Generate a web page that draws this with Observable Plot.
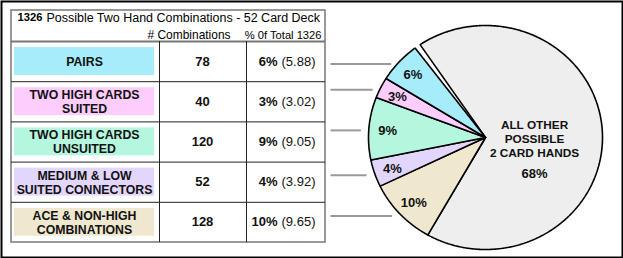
<!DOCTYPE html>
<html>
<head>
<meta charset="utf-8">
<script src="https://cdn.jsdelivr.net/npm/d3@7"></script>
<script src="https://cdn.jsdelivr.net/npm/@observablehq/plot@0.6"></script>
<style>
  html, body { margin: 0; padding: 0; background: white; }
  #chart svg { display: block; }
</style>
</head>
<body>
<div id="chart"></div>
<script>
// ---- data ----
const titleBold = "1326";
const titleRest = "Possible Two Hand Combinations - 52 Card Deck";
const headerCombos = "# Combinations";
const headerPct = "% 0f Total 1326";
const categories = ["PAIRS", "TWO HIGH CARDS\nSUITED", "TWO HIGH CARDS\nUNSUITED", "MEDIUM & LOW\nSUITED CONNECTORS", "ACE & NON-HIGH\nCOMBINATIONS"];
const combos = [78, 40, 120, 52, 128];
const pctRounded = ["6%", "3%", "9%", "4%", "10%"];
const pctExact = ["(5.88)", "(3.02)", "(9.05)", "(3.92)", "(9.65)"];
const colors = ["#a6ecfb", "#fdcdfd", "#b4f7de", "#e2d6fc", "#efe8cf"];
const totalCombos = 1326;
const otherLabel = "ALL OTHER\nPOSSIBLE\n2 CARD HANDS";
const otherPct = "68%";
const otherColor = "#eeeeee";

// ---- layout ----
const W = 623, H = 258;
const tLeft = 11, tRight = 325, tTop = 10, tBottom = 242;
const headLine = 41, rowH = 40.2;
const col1 = 159, col2 = 246;
const cx = 485, cy = 137, rx = 117, ry = 112;
const startAngle = -37 * Math.PI / 180;
const gap = 3 * Math.PI / 180;
const fontName = "'Liberation Sans'";
const font = fontName + ", Arial, Helvetica, sans-serif";

// fit a text string to a target pixel width
const ctx = document.createElement("canvas").getContext("2d");
function fitSize(text, target, weight, fallback) {
  ctx.font = `${weight} 20px ${font}`;
  const w = ctx.measureText(text).width;
  return w > 0 ? Math.min(fallback * 1.2, 20 * target / w) : fallback;
}
const titleBoldSize = fitSize(titleBold, 25, "bold", 12);
const titleRestSize = fitSize(titleRest, 274, "normal", 12.4);
const headCombosSize = fitSize(headerCombos, 83, "normal", 11.5);
const headPctSize = fitSize(headerPct, 77, "normal", 11.5);

const rows = categories.map((c, i) => ({
  i, label: c, combos: combos[i], pct: pctRounded[i], exact: pctExact[i], color: colors[i],
  top: headLine + i * rowH
}));

// ---- pie geometry ----
const otherValue = totalCombos - d3.sum(combos);
const pieInput = [{key: "other", value: otherValue, color: otherColor}]
  .concat(rows.slice().reverse().map(r => ({key: r.label, value: r.combos, color: r.color, row: r})));
const arcs = d3.pie().sort(null).value(d => d.value)
  .startAngle(startAngle).endAngle(startAngle + 2 * Math.PI)(pieInput);

const pt = (a, f = 1) => ({x: cx + f * rx * Math.sin(a), y: cy - f * ry * Math.cos(a)});
function slicePoints(a0, a1) {
  const n = Math.max(2, Math.ceil((a1 - a0) / (Math.PI / 360)));
  const pts = [{x: cx, y: cy}];
  for (let k = 0; k <= n; k++) pts.push(pt(a0 + (a1 - a0) * k / n));
  pts.push({x: cx, y: cy});
  return pts;
}
const slices = arcs.map(a => ({
  key: a.data.key, color: a.data.color, row: a.data.row,
  a0: a.data.key === "other" ? a.startAngle + gap : a.startAngle,
  a1: a.endAngle,
  mid: (a.startAngle + a.endAngle) / 2
}));
const small = slices.filter(s => s.row);
const other = slices.find(s => s.key === "other");
const otherPos = pt(other.mid, 0.42);

const marks = [];
// outer frame
marks.push(Plot.frame({stroke: "black", strokeWidth: 2, inset: 1}));
// table border
marks.push(Plot.rect([0], {x1: () => tLeft, x2: () => tRight, y1: () => tTop, y2: () => tBottom, fill: "white", stroke: "#777", strokeWidth: 1.5}));
// label boxes
marks.push(Plot.rect(rows, {x1: () => 14, x2: () => 154, y1: d => d.top + 6, y2: d => d.top + 34, fill: "color"}));
// header line
marks.push(Plot.ruleY([headLine], {x1: tLeft, x2: tRight, stroke: "#777", strokeWidth: 2}));
// row lines
marks.push(Plot.ruleY(rows.slice(1), {y: d => d.top, x1: tLeft, x2: tRight, stroke: "#222", strokeWidth: 1}));
// column lines
marks.push(Plot.ruleX([col1, col2], {y1: headLine, y2: tBottom, stroke: "#222", strokeWidth: 1}));
// title
marks.push(Plot.text([titleBold], {x: () => 17, y: () => 17, text: d => d, textAnchor: "start", fontWeight: "bold", fontSize: titleBoldSize, fill: "black"}));
marks.push(Plot.text([titleRest], {x: () => 46, y: () => 17, text: d => d, textAnchor: "start", fontSize: titleRestSize, fill: "black"}));
marks.push(Plot.text([headerCombos], {x: () => 230, y: () => 35, text: d => d, textAnchor: "end", fontSize: headCombosSize, fill: "black"}));
marks.push(Plot.text([headerPct], {x: () => 321, y: () => 35, text: d => d, textAnchor: "end", fontSize: headPctSize, fill: "black"}));
// row texts
marks.push(Plot.text(rows, {x: () => 84, y: d => d.top + 20, text: "label", fontWeight: "bold", fontSize: 12.3, lineHeight: 1.15, fill: "#111"}));
marks.push(Plot.text(rows, {x: () => 202, y: d => d.top + 20, text: d => String(d.combos), fontWeight: "bold", fontSize: 13, fill: "#111"}));
marks.push(Plot.text(rows, {x: () => 277, y: d => d.top + 20, text: "pct", textAnchor: "end", fontWeight: "bold", fontSize: 13, fill: "#111"}));
marks.push(Plot.text(rows, {x: () => 281, y: d => d.top + 20, text: "exact", textAnchor: "start", fontSize: 13, fill: "#111"}));
// leader lines
marks.push(Plot.link(small, {
  x1: () => 330, x2: d => pt(d.mid).x - 8,
  y1: d => pt(d.mid).y + 2, y2: d => pt(d.mid).y + 2,
  stroke: "#9a9a9a", strokeWidth: 2
}));
// pie slices
for (const s of slices) {
  marks.push(Plot.line(slicePoints(s.a0, s.a1), {x: "x", y: "y", fill: s.color, stroke: "black", strokeWidth: 1.6, strokeLinejoin: "miter"}));
}
// pie labels
marks.push(Plot.text(small, {x: d => pt(d.mid, 0.84).x, y: d => pt(d.mid, 0.84).y + 1, text: d => d.row.pct, fontWeight: "bold", fontSize: 13, fill: "#111"}));
marks.push(Plot.text([other], {x: () => otherPos.x, y: () => otherPos.y, dy: 4, text: () => otherLabel, fontWeight: "bold", fontSize: 11.8, lineHeight: 1.2, fill: "#111"}));
marks.push(Plot.text([other], {x: () => otherPos.x, y: () => otherPos.y, dy: 39, text: () => otherPct, fontWeight: "bold", fontSize: 13, fill: "#111"}));

const chart = Plot.plot({
  width: W, height: H,
  marginTop: 0, marginRight: 0, marginBottom: 0, marginLeft: 0,
  x: {domain: [0, W], range: [0, W], axis: null},
  y: {domain: [0, H], range: [0, H], axis: null},
  style: {fontFamily: font, background: "white", overflow: "visible"},
  marks
});
document.getElementById("chart").appendChild(chart);
</script>
</body>
</html>
